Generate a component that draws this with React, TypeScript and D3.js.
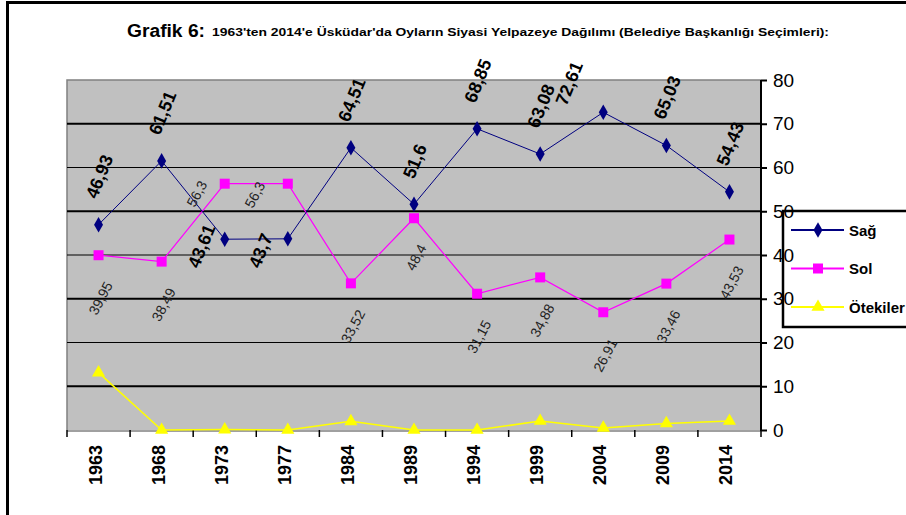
import { useRef, useEffect } from "react";
import * as d3 from "d3";

const years = ["1963", "1968", "1973", "1977", "1984", "1989", "1994", "1999", "2004", "2009", "2014"];
const sag = [46.93, 61.51, 43.61, 43.7, 64.51, 51.6, 68.85, 63.08, 72.61, 65.03, 54.43];
const sol = [39.95, 38.49, 56.3, 56.3, 33.52, 48.4, 31.15, 34.88, 26.91, 33.46, 43.53];
const otekiler = [13.12, 0, 0.09, 0, 1.97, 0, 0, 2.04, 0.48, 1.51, 2.04];
const yTicks = [0, 10, 20, 30, 40, 50, 60, 70, 80];

const W = 906;
const H = 515;

// label nudges for the crowded spots (pixels)
const sagNudge: Record<number, [number, number]> = {
  2: [-24, 55],
  3: [-28, 60],
  5: [0, 5],
  8: [-35, 19],
};
const solNudge: Record<number, [number, number]> = {
  2: [-30, -33],
  3: [-35, -32],
  5: [0, -4],
};

const fmt = (v: number) => String(v).replace(".", ",");

export default function App() {
  const svgRef = useRef<SVGSVGElement>(null);

  useEffect(() => {
    if (!svgRef.current) return;
    const svg = d3.select(svgRef.current);
    svg.selectAll("*").remove();

    const font = "Arial, 'Liberation Sans', sans-serif";
    const left = 67;
    const right = 761;
    const top = 80;
    const bottom = 430;

    const x = d3.scaleBand().domain(years).range([left, right]);
    const y = d3.scaleLinear().domain([0, 80]).range([bottom, top]);
    const cx = (i: number) => (x(years[i]) ?? 0) + x.bandwidth() / 2;

    // outer frame (top + left only)
    svg.append("line").attr("x1", 6).attr("x2", W).attr("y1", 2.5).attr("y2", 2.5)
      .attr("stroke", "#000").attr("stroke-width", 3);
    svg.append("line").attr("x1", 7.5).attr("x2", 7.5).attr("y1", 1).attr("y2", H)
      .attr("stroke", "#000").attr("stroke-width", 3);

    // title
    svg.append("text")
      .attr("x", 127).attr("y", 37)
      .attr("font-family", font).attr("font-weight", "bold").attr("font-size", 18)
      .attr("textLength", 78).attr("lengthAdjust", "spacingAndGlyphs")
      .text("Grafik 6:");
    svg.append("text")
      .attr("x", 212).attr("y", 36)
      .attr("font-family", font).attr("font-weight", "bold").attr("font-size", 11)
      .attr("textLength", 617).attr("lengthAdjust", "spacingAndGlyphs")
      .text("1963'ten  2014'e Üsküdar'da  Oyların  Siyasi Yelpazeye  Dağılımı (Belediye Başkanlığı Seçimleri):");

    // plot area
    svg.append("rect")
      .attr("x", left).attr("y", top)
      .attr("width", right - left).attr("height", bottom - top)
      .attr("fill", "#c0c0c0");
    svg.append("path")
      .attr("d", `M${left},${bottom}V${top}H${right}`)
      .attr("fill", "none").attr("stroke", "#808080").attr("stroke-width", 1.5);

    // grid
    svg.append("g")
      .selectAll("line")
      .data(yTicks.filter((t) => t > 0 && t < 80))
      .enter()
      .append("line")
      .attr("x1", left).attr("x2", right)
      .attr("y1", (d) => y(d)).attr("y2", (d) => y(d))
      .attr("stroke", "#000")
      .attr("stroke-width", (d) => (d % 20 === 10 ? 2 : 1.2));

    // x axis
    svg.append("line").attr("x1", left).attr("x2", right).attr("y1", bottom + 1).attr("y2", bottom + 1)
      .attr("stroke", "#a0a0a0").attr("stroke-width", 2);
    const bounds = years.map((d) => x(d) ?? 0).concat([right]);
    svg.append("g").selectAll("line").data(bounds).enter().append("line")
      .attr("x1", (d) => d).attr("x2", (d) => d)
      .attr("y1", bottom).attr("y2", bottom + 7)
      .attr("stroke", "#000").attr("stroke-width", 1.5);
    svg.append("g").selectAll("text").data(years).enter().append("text")
      .attr("transform", (d, i) => `translate(${cx(i) - 3},445) rotate(-90)`)
      .attr("text-anchor", "end")
      .attr("dominant-baseline", "central")
      .attr("font-family", font).attr("font-weight", "bold").attr("font-size", 18)
      .text((d) => d);

    // right y axis
    svg.append("line").attr("x1", right).attr("x2", right).attr("y1", top).attr("y2", bottom + 1)
      .attr("stroke", "#000").attr("stroke-width", 2);

    // legend box (drawn before tick labels so they sit on top)
    const lg = svg.append("g");
    lg.append("rect")
      .attr("x", 783).attr("y", 211).attr("width", 140).attr("height", 116)
      .attr("fill", "#fff").attr("stroke", "#000").attr("stroke-width", 2.5);

    const yAxis = svg.append("g").attr("transform", `translate(${right},0)`)
      .call(d3.axisRight(y).tickValues(yTicks).tickSize(6).tickPadding(6).tickFormat((d) => String(d)));
    yAxis.select(".domain").remove();
    yAxis.selectAll(".tick line").attr("stroke", "#000").attr("stroke-width", 2);
    yAxis.selectAll(".tick text")
      .attr("font-family", font).attr("font-size", 19).attr("fill", "#000");

    const series = [
      { name: "Sağ", values: sag, color: "#000080", sym: d3.symbolDiamond, size: 70, width: 1 },
      { name: "Sol", values: sol, color: "#ff00ff", sym: d3.symbolSquare, size: 100, width: 1.2 },
      { name: "Ötekiler", values: otekiler, color: "#ffff00", sym: d3.symbolTriangle, size: 75, width: 1.5 },
    ];

    const line = d3.line<number>().x((_, i) => cx(i)).y((d) => y(d));

    // draw order: Ötekiler, Sol, Sağ
    [2, 1, 0].forEach((si) => {
      const s = series[si];
      svg.append("path")
        .datum(s.values)
        .attr("d", line)
        .attr("fill", "none")
        .attr("stroke", s.color)
        .attr("stroke-width", s.width);
      svg.append("g").selectAll("path").data(s.values).enter().append("path")
        .attr("transform", (d, i) => `translate(${cx(i)},${y(d)})`)
        .attr("d", d3.symbol().type(s.sym).size(s.size)())
        .attr("fill", s.color);
    });

    // Sol labels
    svg.append("g").selectAll("text").data(sol).enter().append("text")
      .attr("transform", (d, i) => {
        const [dx, dy] = solNudge[i] ?? [0, 0];
        return `translate(${cx(i) + 2 + dx},${y(d) + 43 + dy}) rotate(-62)`;
      })
      .attr("text-anchor", "middle")
      .attr("dominant-baseline", "central")
      .attr("font-family", font).attr("font-size", 14).attr("fill", "#222")
      .text((d) => fmt(d));

    // Sağ labels
    svg.append("g").selectAll("text").data(sag).enter().append("text")
      .attr("transform", (d, i) => {
        const [dx, dy] = sagNudge[i] ?? [0, 0];
        return `translate(${cx(i) + 1 + dx},${y(d) - 48 + dy}) rotate(-68)`;
      })
      .attr("text-anchor", "middle")
      .attr("dominant-baseline", "central")
      .attr("font-family", font).attr("font-weight", "bold").attr("font-size", 18).attr("fill", "#000")
      .text((d) => fmt(d));

    // legend entries
    series.forEach((s, i) => {
      const ly = 230 + i * 38.5;
      lg.append("line").attr("x1", 791).attr("x2", 844).attr("y1", ly).attr("y2", ly)
        .attr("stroke", s.color).attr("stroke-width", 2);
      lg.append("path")
        .attr("transform", `translate(818,${ly})`)
        .attr("d", d3.symbol().type(s.sym).size(s.size)())
        .attr("fill", s.color);
      lg.append("text")
        .attr("x", 849).attr("y", ly)
        .attr("dominant-baseline", "central")
        .attr("font-family", font).attr("font-weight", "bold").attr("font-size", 15)
        .text(s.name);
    });
  }, []);

  return (
    <svg
      ref={svgRef}
      width={W}
      height={H}
      style={{ position: "absolute", left: 0, top: 0, background: "#fff" }}
      role="img"
      aria-label="Grafik 6 line chart"
    />
  );
}
